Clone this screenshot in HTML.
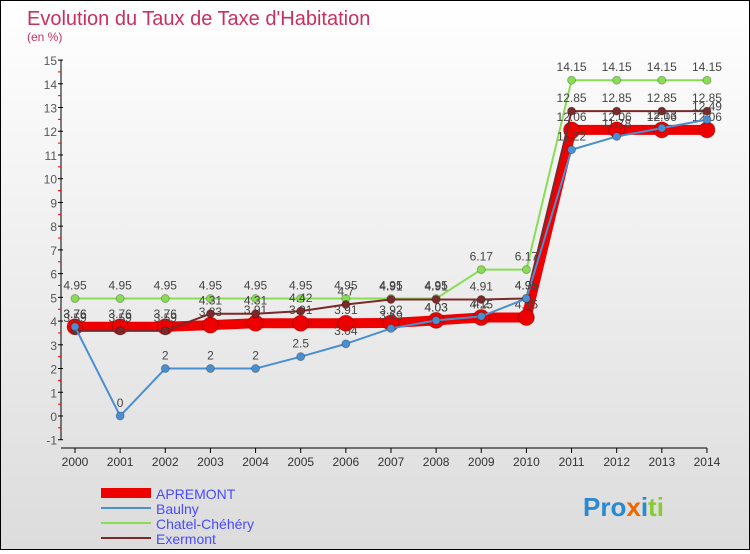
<!DOCTYPE html>
<html><head><meta charset="utf-8"><style>
body{margin:0;width:750px;height:550px;overflow:hidden;font-family:"Liberation Sans",sans-serif}
#wrap{position:relative;width:748px;height:548px;border:1px solid #000;background:linear-gradient(#ffffff,#dcdcdc)}
</style></head><body>
<div id="wrap">
<svg id="chart" width="748" height="548" xmlns="http://www.w3.org/2000/svg">
<text x="26" y="24" font-size="20" fill="#c8305f">Evolution du Taux de Taxe d'Habitation</text>
<text x="26" y="40" font-size="12" fill="#c8305f">(en %)</text>
<g id="axes"></g><g id="series"></g>
<g>
<rect x="100" y="487" width="50" height="10" fill="#ee0000"/>
<text x="155" y="498" font-size="14" fill="#4a4aff">APREMONT</text>
<line x1="100" y1="507" x2="150" y2="507" stroke="#4a90d0" stroke-width="2"/>
<text x="155" y="513" font-size="14" fill="#4a4aff">Baulny</text>
<line x1="100" y1="522" x2="150" y2="522" stroke="#88dd55" stroke-width="2"/>
<text x="155" y="528" font-size="14" fill="#4a4aff">Chatel-Chéhéry</text>
<line x1="100" y1="537" x2="150" y2="537" stroke="#7a2a2a" stroke-width="2"/>
<text x="155" y="543" font-size="14" fill="#4a4aff">Exermont</text>
</g>
<text x="582" y="515" font-size="26" font-weight="bold"><tspan fill="#2a8ad0">Pro</tspan><tspan fill="#ee6600">x</tspan><tspan fill="#2a8ad0">i</tspan><tspan fill="#88cc33">ti</tspan></text>
</svg></div>
<script>
const years=[2000,2001,2002,2003,2004,2005,2006,2007,2008,2009,2010,2011,2012,2013,2014];
const apremont=[3.76,3.76,3.76,3.83,3.91,3.91,3.91,3.92,4.03,4.15,4.15,12.06,12.06,12.06,12.06];
const baulny=[3.76,0,2,2,2,2.5,3.04,3.69,4.03,4.2,4.95,11.22,11.78,12.13,12.49];
const chatel=[4.95,4.95,4.95,4.95,4.95,4.95,4.95,4.95,4.95,6.17,6.17,14.15,14.15,14.15,14.15];
const exermont=[3.59,3.59,3.59,4.31,4.31,4.42,4.7,4.91,4.91,4.91,4.95,12.85,12.85,12.85,12.85];
const yTicks=[-1,0,1,2,3,4,5,6,7,8,9,10,11,12,13,14,15];
const NS="http://www.w3.org/2000/svg";
const X=i=>74+i*45.14, Y=v=>415-v*23.73;
function mk(p,t,a){const e=document.createElementNS(NS,t);for(const k in a)e.setAttribute(k,a[k]);p.appendChild(e);return e;}
const ax=document.getElementById('axes'), sg=document.getElementById('series');
let l=mk(ax,'line',{x1:60,y1:Y(15),x2:60,y2:Y(-1),stroke:'#000'});

l=mk(ax,'line',{x1:60,y1:447,x2:X(14),y2:447,stroke:'#000'});

yTicks.forEach(v=>{mk(ax,'line',{x1:57,y1:Y(v),x2:62,y2:Y(v),stroke:'#000'});
 if(v<15) mk(ax,'line',{x1:57,y1:Y(v+0.5),x2:60,y2:Y(v+0.5),stroke:'#e00'});
 const t=mk(ax,'text',{x:56,y:Y(v)+5,'font-size':12,fill:'#555','text-anchor':'end'});t.textContent=v;
 });
years.forEach((yr,i)=>{mk(ax,'line',{x1:X(i),y1:447,x2:X(i),y2:452,stroke:'#000'});
 const t=mk(ax,'text',{x:X(i),y:465,'font-size':12,fill:'#333','text-anchor':'middle'});t.textContent=yr;
 });
function series(vals,color,w,r,name){
 const g=mk(sg,'g',{});
 
 mk(g,'polyline',{points:vals.map((v,i)=>X(i)+','+Y(v)).join(' '),fill:'none',stroke:color,'stroke-width':w,'stroke-linejoin':'round'});
 vals.forEach((v,i)=>{const c=mk(g,'circle',{cx:X(i),cy:Y(v),r:r,fill:color,stroke:'rgba(0,0,0,0.25)'});
  
  const t=mk(g,'text',{x:X(i),y:Y(v)-9,'font-size':12,fill:'#444','text-anchor':'middle'});t.textContent=v;
  });
}
series(chatel,'#88dd55',2,4,'chatel');
series(apremont,'#ee0000',10,8,'apremont');
series(exermont,'#7a2a2a',2,4,'exermont');
series(baulny,'#4a90d0',2,4,'baulny');
</script></body></html>
